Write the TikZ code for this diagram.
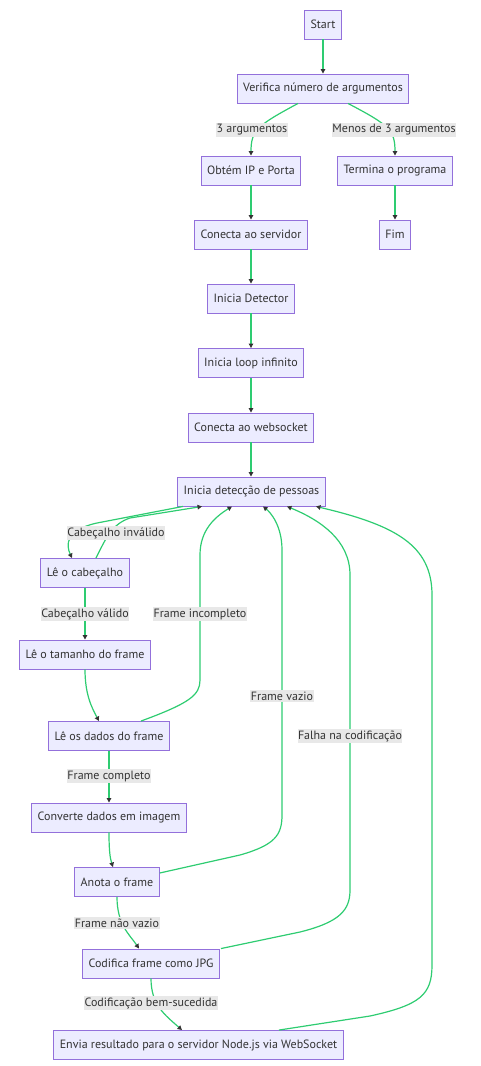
\documentclass[tikz,border=0pt]{standalone}
\usepackage{fontspec}
\setmainfont{PT Sans}
\usetikzlibrary{arrows.meta,calc}
\definecolor{nfill}{HTML}{ECECFF}
\definecolor{ndraw}{HTML}{9370DB}
\definecolor{egreen}{HTML}{2ECC71}
\definecolor{txt}{HTML}{333333}
\definecolor{lblbg}{HTML}{E8E8E8}
\begin{document}
\begin{tikzpicture}[x=1pt,y=-1pt,
  box/.style={draw=ndraw,fill=nfill,line width=0.9pt,minimum height=29pt,inner xsep=6pt,inner ysep=0pt,text=txt,font=\fontsize{12}{14}\selectfont},
  lbl/.style={fill=lblbg,inner xsep=0.5pt,inner ysep=1.5pt,text=txt,font=\fontsize{12}{14}\selectfont},
  e/.style={draw=egreen,line width=1.2pt,-{Triangle[length=4.5pt,width=4.5pt,color=txt]}}]
\useasboundingbox (0,0) rectangle (480,1066);
\node[box] (start) at (323,24.5) {Start};
\node[box] (verif) at (323,88.5) {Verifica número de argumentos};
\node[box] (obtem) at (251,170.5) {Obtém IP e Porta};
\node[box] (termina) at (395,170.5) {Termina o programa};
\node[box] (conserv) at (251,234.5) {Conecta ao servidor};
\node[box] (fim) at (395,234.5) {Fim};
\node[box] (detector) at (251,298.5) {Inicia Detector};
\node[box] (loop) at (251,363) {Inicia loop infinito};
\node[box] (ws) at (251,427.5) {Conecta ao websocket};
\node[box] (det) at (251.5,491.5) {Inicia detecção de pessoas};
\node[box] (cab) at (85,573) {Lê o cabeçalho};
\node[box] (tam) at (85,654.5) {Lê o tamanho do frame};
\node[box] (dados) at (109,736) {Lê os dados do frame};
\node[box] (conv) at (109,817.5) {Converte dados em imagem};
\node[box] (anota) at (117,882) {Anota o frame};
\node[box] (codif) at (151,963.5) {Codifica frame como JPG};
\node[box] (envia) at (198.5,1045) {Envia resultado para o servidor Node.js via WebSocket};

\draw[e] (start) -- (verif);
\draw[e] ([xshift=-25pt]verif.south) .. controls (258,125) and (251,130) .. (obtem.north);
\draw[e] ([xshift=25pt]verif.south) .. controls (389,125) and (395,130) .. (termina.north);
\draw[e] (obtem) -- (conserv);
\draw[e] (termina) -- (fim);
\draw[e] (conserv) -- (detector);
\draw[e] (detector) -- (loop);
\draw[e] (loop) -- (ws);
\draw[e] (ws.south) -- (ws.south |- det.north);
\draw[e] ([xshift=-68.5pt]det.south) -- (97,523) .. controls (65,530) and (66,545) .. ([xshift=-13pt]cab.north);
\draw[e] ([xshift=11pt]cab.north) .. controls (106,538) and (112,524) .. (130,518) -- ([xshift=-49.5pt]det.south);
\draw[e] (cab) -- (tam);
\draw[e] (tam.south) .. controls (85,695) and (92,708) .. ([xshift=-10pt]dados.north);
\draw[e] ([xshift=32pt]dados.north) .. controls (190,703) and (200,695) .. (200,680) -- (200,555) .. controls (200,530) and (215,517) .. ([xshift=-19.5pt]det.south);
\draw[e] (dados) -- (conv);
\draw[e] (conv.south) .. controls (109,850) and (110,858) .. ([xshift=-4pt]anota.north);
\draw[e] ([yshift=9pt]anota.east) -- (240,855) .. controls (275,845) and (282,835) .. (282,815) -- (282,550) .. controls (282,525) and (270,512) .. ([xshift=11.5pt]det.south);
\draw[e] (anota.south) .. controls (117,925) and (130,935) .. ([xshift=-12pt]codif.north);
\draw[e] ([xshift=70pt]codif.north) -- (300,932) .. controls (340,922) and (350,910) .. (350,890) -- (350,575) .. controls (350,540) and (320,520) .. ([xshift=35.5pt]det.south);
\draw[e] (codif.south) .. controls (151,1005) and (165,1015) .. ([xshift=-16.5pt]envia.north);
\draw[e] ([xshift=80.5pt]envia.north) -- (370,1016) .. controls (420,1005) and (432,995) .. (432,965) -- (432,595) .. controls (432,545) and (395,525) .. ([xshift=64.5pt]det.south);

\node[lbl] (l3) at (252,130) {3 argumentos};
\node[lbl] (lmenos) at (394,130) {Menos de 3 argumentos};
\node[lbl] (lcabinv) at (116,533) {Cabeçalho inválido};
\node[lbl] (lcabval) at (85,614) {Cabeçalho válido};
\node[lbl] (lfinc) at (200,614) {Frame incompleto};
\node[lbl] (lfvaz) at (282,696) {Frame vazio};
\node[lbl] (lfalha) at (350,736) {Falha na codificação};
\node[lbl] (lfcomp) at (109,776) {Frame completo};
\node[lbl] (lfnv) at (117,923) {Frame não vazio};
\node[lbl] (lcbs) at (151,1003) {Codificação bem-sucedida};
\end{tikzpicture}
\end{document}
